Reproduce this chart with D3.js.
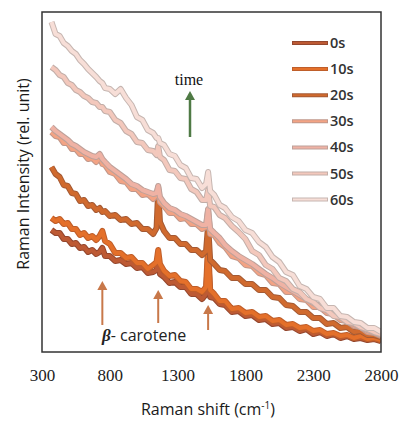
<!DOCTYPE html>
<html>
<head>
<meta charset="utf-8">
<script src="https://cdn.jsdelivr.net/npm/d3@7"></script>
<style>
  body { margin: 0; background: #fff; }
</style>
</head>
<body>
<div id="vis"></div>
<script>
// set constants
const FRAME_HEIGHT = 423;
const FRAME_WIDTH = 402;
const MARGINS = {left: 42, right: 21, top: 12, bottom: 71};

// raman shift values (cm-1)
const SHIFTS = [370, 400, 430, 460, 490, 520, 550, 580, 610, 640, 670, 700, 725, 745, 765,
  800, 840, 880, 920, 960, 1000, 1040, 1080, 1120, 1145, 1157, 1170, 1200, 1240, 1280,
  1320, 1360, 1400, 1440, 1480, 1510, 1525, 1540, 1570, 1610, 1650, 1700, 1750, 1800,
  1850, 1900, 1950, 2000, 2050, 2100, 2150, 2200, 2250, 2300, 2350, 2400, 2450, 2500,
  2550, 2600, 2650, 2700, 2750, 2800];

// intensities (rel. unit) for each time
const S0 = [122,119,119,113,113,108,109,104,105,100, 102,98,100,104,96,96,91,92,88,89,
  84,85,79,80,82,94,78,75,69,70, 65,65,58,58,53,58,97,55,54,48, 47,40,41,36,37,32,33,28,29,24,
  25,21,23,18,20,16,18,14,16,13, 14,12,13,11];
const S10 = [134,131,133,128,129,123,123,117,119,114, 116,112,116,121,111,108,99,99,94,95,
  89,89,83,87,90,102,88,81,76,77, 71,70,63,63,60,65,107,62,58,51, 51,43,44,39,40,35,36,31,32,27,
  28,24,25,21,22,18,19,16,17,14, 16,13,14,12];
const S20 = [185,178,175,167,166,159,158,151,152,146, 147,142,144,140,141,136,137,132,133,128,
  129,123,123,118,124,162,130,121,114,114, 108,108,102,102,97,101,127,92,88,82,
  81,74,74,68,68,62,62,55,54,47, 46,40,40,34,34,28,29,24,25,20, 21,17,17,15];
const S30 = [220,216,215,209,209,203,203,198,198,193, 194,190,196,188,187,180,178,171,170,163,
  163,157,158,153,157,165,150,146,139,139, 133,134,128,128,123,125,142,118,117,109,
  105,96,94,87,86,79,77,69,68,60, 60,53,52,45,45,39,38,32,31,26, 25,20,19,16];
const S40 = [225,221,218,215,212,208,206,203,200,198, 196,195,198,193,190,185,181,177,173,168,
  166,162,160,158,159,166,155,149,144,142, 138,136,133,130,127,127,143,123,119,114,
  107,101,96,92,88,83,78,74,69,65, 61,57,53,49,46,42,39,35,32,28, 25,22,20,17];
const S50 = [285,282,277,275,269,267,262,260,256,254, 250,249,245,245,241,240,232,229,221,218,
  210,209,202,201,197,206,195,192,182,181, 174,173,163,160,152,152,162,146,145,137,
  134,126,120,113,101,97,87,83,74,71, 63,60,53,50,44,42,36,35,30,29, 25,23,20,18];
const S60 = [330,318,316,309,306,301,298,292,288,283, 279,275,271,269,264,263,258,263,254,247,
  235,232,222,219,214,214,209,207,198,196, 187,184,174,173,164,168,180,161,157,147,
  144,135,131,122,119,110,105,95,90,80, 77,66,63,55,53,44,44,36,35,30, 29,24,24,20];

const TIMES = ["0s", "10s", "20s", "30s", "40s", "50s", "60s"];
const SERIES = [S0, S10, S20, S30, S40, S50, S60];
const X_TICKS = [300, 800, 1300, 1800, 2300, 2800];
const PEAKS = [745, 1157, 1525];

const FILLS = ["#bd5a34", "#e4702a", "#d06a2e", "#f3a384", "#efb2a4", "#f3c8bc", "#f7ded7"];
const EDGES = ["#94472e", "#bf5e2a", "#a45a34", "#c0978a", "#bea19a", "#c2aea8", "#c6b6b1"];

const X_SCALE = d3.scaleLinear()
                  .domain([300, 2800])
                  .range([MARGINS.left, FRAME_WIDTH - MARGINS.right]);
const Y_SCALE = d3.scaleLinear()
                  .domain([0, 340])
                  .range([FRAME_HEIGHT - MARGINS.bottom, MARGINS.top]);

const FRAME = d3.select("#vis")
                .append("svg")
                  .attr("width", FRAME_WIDTH)
                  .attr("height", FRAME_HEIGHT);

FRAME.append("clipPath")
      .attr("id", "clip")
    .append("rect")
      .attr("x", MARGINS.left)
      .attr("y", MARGINS.top)
      .attr("width", FRAME_WIDTH - MARGINS.left - MARGINS.right)
      .attr("height", FRAME_HEIGHT - MARGINS.top - MARGINS.bottom);

const line = d3.line()
               .x((d, i) => X_SCALE(SHIFTS[i]))
               .y((d) => Y_SCALE(d));

// spectra, 0s drawn first so later times sit on top
const plot = FRAME.append("g").attr("clip-path", "url(#clip)");
SERIES.forEach((s, k) => {
  plot.append("path")
      .attr("d", line(s))
      .attr("fill", "none")
      .attr("stroke", EDGES[k])
      .attr("stroke-width", 6)
      .attr("stroke-linejoin", "round");
  plot.append("path")
      .attr("d", line(s))
      .attr("fill", "none")
      .attr("stroke", FILLS[k])
      .attr("stroke-width", 4)
      .attr("stroke-linejoin", "round");
});

// frame box
FRAME.append("rect")
      .attr("x", MARGINS.left)
      .attr("y", MARGINS.top)
      .attr("width", FRAME_WIDTH - MARGINS.left - MARGINS.right)
      .attr("height", FRAME_HEIGHT - MARGINS.top - MARGINS.bottom)
      .attr("fill", "none")
      .attr("stroke", "#333")
      .attr("stroke-width", 1.5);

// x axis labels only
const xAxis = FRAME.append("g")
      .attr("transform", "translate(0," + (FRAME_HEIGHT - MARGINS.bottom) + ")")
      .call(d3.axisBottom(X_SCALE).tickValues(X_TICKS).tickSize(0).tickPadding(17)
              .tickFormat(d3.format("d")));
xAxis.select(".domain").remove();
xAxis.selectAll("text")
      .attr("font-family", "'Liberation Serif', serif")
      .attr("font-size", "17px")
      .attr("fill", "#222");

// axis titles
const xTitle = FRAME.append("text")
      .attr("x", 208)
      .attr("y", 415)
      .attr("text-anchor", "middle")
      .attr("font-family", "'Open Sans', sans-serif")
      .attr("font-size", "16px")
      .attr("fill", "#1a1a1a")
      .text("Raman shift (cm");
xTitle.append("tspan")
      .attr("dy", -6)
      .attr("font-size", "10px")
      .text("-1");
xTitle.append("tspan")
      .attr("dy", 6)
      .text(")");

FRAME.append("text")
      .attr("transform", "translate(29,174) rotate(-90)")
      .attr("text-anchor", "middle")
      .attr("font-family", "'Open Sans', sans-serif")
      .attr("font-size", "16px")
      .attr("fill", "#1a1a1a")
      .text("Raman Intensity (rel. unit)");

// legend
const legend = FRAME.append("g");
TIMES.forEach((t, k) => {
  const ly = 43 + k * 26.1;
  legend.append("line")
        .attr("x1", 292).attr("x2", 328)
        .attr("y1", ly).attr("y2", ly)
        .attr("stroke", EDGES[k])
        .attr("stroke-width", 4);
  legend.append("line")
        .attr("x1", 293).attr("x2", 327)
        .attr("y1", ly).attr("y2", ly)
        .attr("stroke", FILLS[k])
        .attr("stroke-width", 2);
  legend.append("text")
        .attr("x", 330)
        .attr("y", ly)
        .attr("dy", "0.35em")
        .attr("font-family", "'Open Sans', sans-serif")
        .attr("font-weight", 600)
        .attr("font-size", "14.5px")
        .attr("fill", "#333")
        .text(t);
});

// arrows
function arrow(x, y0, y1, color, w) {
  FRAME.append("line")
        .attr("x1", x).attr("x2", x)
        .attr("y1", y0).attr("y2", y1 + 8)
        .attr("stroke", color)
        .attr("stroke-width", w);
  FRAME.append("path")
        .attr("d", "M" + (x - 5) + "," + (y1 + 9) + "L" + x + "," + y1 + "L" + (x + 5) + "," + (y1 + 9) + "Z")
        .attr("fill", color);
}

arrow(190, 137, 91, "#4f7a45", 2.5);
FRAME.append("text")
      .attr("x", 189)
      .attr("y", 85)
      .attr("text-anchor", "middle")
      .attr("font-family", "'Liberation Serif', serif")
      .attr("font-size", "16px")
      .attr("fill", "#111")
      .text("time");

const ARROW_TAILS = [325, 323, 330];
const ARROW_TIPS = [281, 290, 305];
PEAKS.forEach((p, i) => {
  arrow(X_SCALE(p), ARROW_TAILS[i], ARROW_TIPS[i], "#c8784a", 2);
});

const beta = FRAME.append("text")
      .attr("x", 102)
      .attr("y", 341)
      .attr("font-family", "'Open Sans', sans-serif")
      .attr("font-size", "16px")
      .attr("fill", "#222");
beta.append("tspan")
      .attr("font-family", "'Liberation Serif', serif")
      .attr("font-style", "italic")
      .attr("font-weight", "bold")
      .attr("font-size", "17px")
      .text("β");
beta.append("tspan").text("- carotene");
</script>
</body>
</html>
